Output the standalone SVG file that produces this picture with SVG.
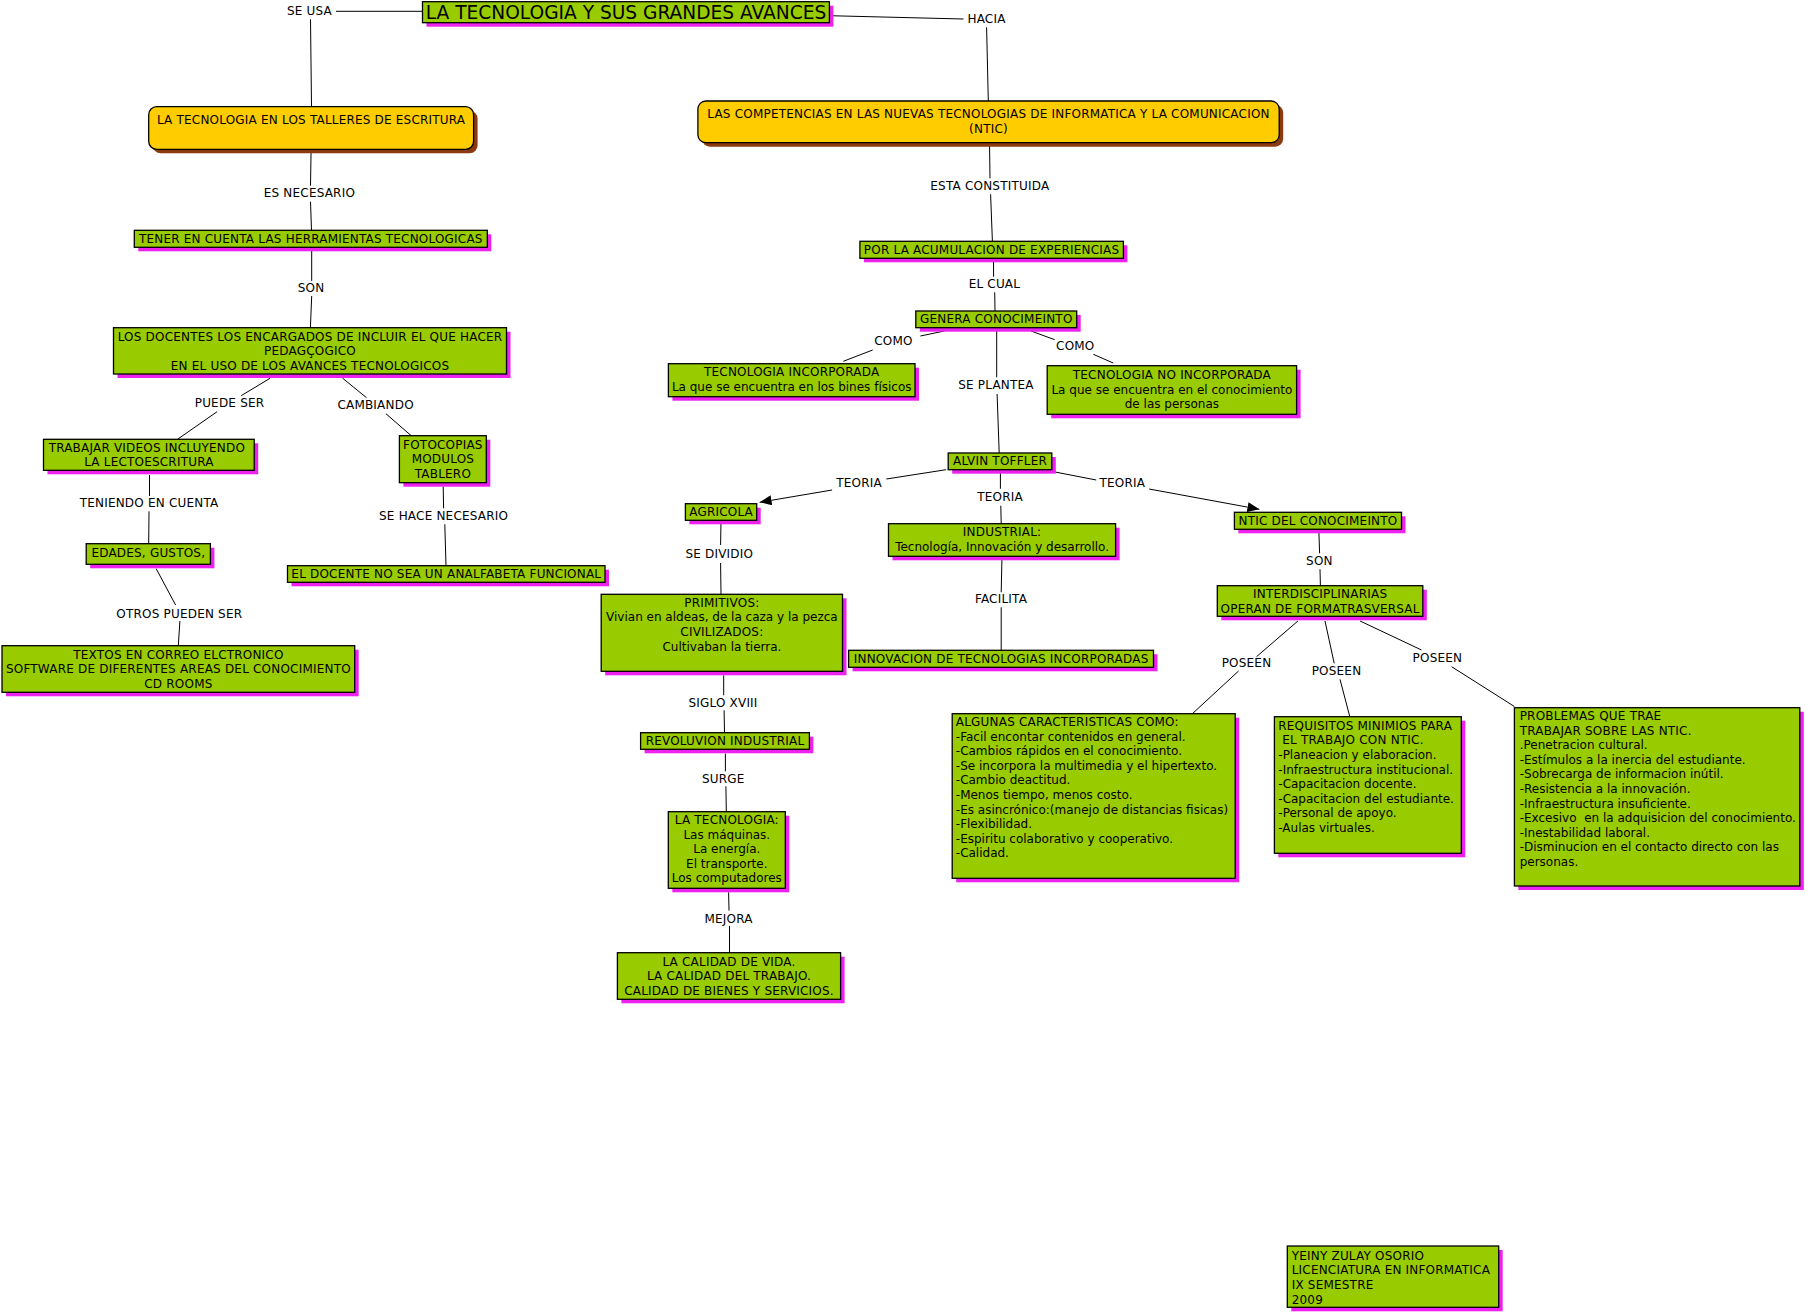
<svg xmlns="http://www.w3.org/2000/svg" width="1805" height="1313" viewBox="0 0 1805 1313">
<style>
text{font-family:"DejaVu Sans",Verdana,"Liberation Sans",sans-serif;font-size:12px;letter-spacing:0.2px;fill:#000}
.c{text-anchor:middle}
.m{letter-spacing:0}
.t{font-size:18.6px;letter-spacing:0}
.sh{fill:#ee22ee}
.bx{fill:#99cc00;stroke:#000;stroke-width:1.3}
.ysh{fill:#8b3a0f}
.yb{fill:#ffcc00;stroke:#000;stroke-width:1.3}
.ln{stroke:#000;stroke-width:1;fill:none}
.ar{marker-end:url(#arr)}
</style>
<defs>
<marker id="arr" viewBox="0 0 12 10" refX="12" refY="5" markerWidth="12" markerHeight="10" markerUnits="userSpaceOnUse" orient="auto">
<path d="M0,0 L12,5 L0,10 z" fill="#000"/>
</marker>
</defs>
<rect width="1805" height="1313" fill="#fff"/>
<g id="connectors">
<line class="ln" x1="336" y1="11.3" x2="422.5" y2="11.3"/>
<line class="ln" x1="310.5" y1="19.3" x2="311.5" y2="106"/>
<line class="ln" x1="829.4" y1="15.7" x2="963.5" y2="19"/>
<line class="ln" x1="986.6" y1="27.3" x2="988.3" y2="101"/>
<line class="ln" x1="311.1" y1="149" x2="310.5" y2="185.7"/>
<line class="ln" x1="310.5" y1="201.7" x2="311.5" y2="230.3"/>
<line class="ln" x1="311.7" y1="247.3" x2="311.7" y2="281"/>
<line class="ln" x1="311.7" y1="296" x2="310.4" y2="327.7"/>
<line class="ln" x1="989.5" y1="142.7" x2="990" y2="178.3"/>
<line class="ln" x1="990.6" y1="194.3" x2="992.4" y2="241.3"/>
<line class="ln" x1="993.5" y1="258.3" x2="993.6" y2="276.7"/>
<line class="ln" x1="994.7" y1="292.3" x2="995" y2="311"/>
<line class="ln" x1="944.4" y1="331" x2="920.4" y2="336"/>
<line class="ln" x1="872.7" y1="350" x2="843.3" y2="361.3"/>
<line class="ln" x1="1031" y1="331" x2="1054.7" y2="339.7"/>
<line class="ln" x1="1093.3" y1="354.3" x2="1113.2" y2="363"/>
<line class="ln" x1="996.7" y1="327.7" x2="996.7" y2="377.3"/>
<line class="ln" x1="997.1" y1="394" x2="999.2" y2="453"/>
<line class="ln" x1="946.1" y1="469.7" x2="886.4" y2="479"/>
<line class="ln ar" x1="832.1" y1="490" x2="759.6" y2="502.3"/>
<line class="ln" x1="1000.4" y1="469.7" x2="1000.4" y2="488.7"/>
<line class="ln" x1="1000.8" y1="505.7" x2="1001.2" y2="523.7"/>
<line class="ln" x1="1055.1" y1="472" x2="1096.2" y2="480"/>
<line class="ln ar" x1="1149.2" y1="489" x2="1259.4" y2="509.3"/>
<line class="ln" x1="721" y1="520.3" x2="720.6" y2="545"/>
<line class="ln" x1="720.6" y1="563" x2="721" y2="594.3"/>
<line class="ln" x1="1002" y1="556.3" x2="1001.2" y2="592.3"/>
<line class="ln" x1="1001.2" y1="607.3" x2="1001.2" y2="650.3"/>
<line class="ln" x1="1318.8" y1="529.3" x2="1319.6" y2="553.3"/>
<line class="ln" x1="1320" y1="569.3" x2="1320.4" y2="585.7"/>
<line class="ln" x1="1297.9" y1="621" x2="1256.5" y2="656.7"/>
<line class="ln" x1="1238.6" y1="671" x2="1192.4" y2="713.7"/>
<line class="ln" x1="1325" y1="621" x2="1334.2" y2="663.3"/>
<line class="ln" x1="1340" y1="679.3" x2="1349.8" y2="716.7"/>
<line class="ln" x1="1360.1" y1="621" x2="1421.5" y2="650"/>
<line class="ln" x1="1451.6" y1="666.7" x2="1514.4" y2="706.5"/>
<line class="ln" x1="270" y1="378.3" x2="241.2" y2="395.7"/>
<line class="ln" x1="217.1" y1="411.7" x2="177.5" y2="439.3"/>
<line class="ln" x1="342.4" y1="378" x2="366.5" y2="397.7"/>
<line class="ln" x1="385.9" y1="413.7" x2="411.2" y2="435.7"/>
<line class="ln" x1="149.5" y1="475" x2="149.5" y2="496"/>
<line class="ln" x1="149" y1="511.3" x2="148.7" y2="543.7"/>
<line class="ln" x1="443.2" y1="486.7" x2="443.6" y2="508.3"/>
<line class="ln" x1="444.8" y1="524.3" x2="446" y2="565.7"/>
<line class="ln" x1="156.2" y1="568.7" x2="175.6" y2="605"/>
<line class="ln" x1="179.9" y1="621" x2="178.3" y2="645.7"/>
<line class="ln" x1="723.7" y1="675.3" x2="723.7" y2="695.3"/>
<line class="ln" x1="724.1" y1="710.3" x2="724.5" y2="732.7"/>
<line class="ln" x1="725.4" y1="753.7" x2="725.4" y2="771.3"/>
<line class="ln" x1="725.9" y1="786.3" x2="726.3" y2="811.7"/>
<line class="ln" x1="728.6" y1="892.3" x2="729" y2="910.7"/>
<line class="ln" x1="729.5" y1="926" x2="729.5" y2="952.7"/>
</g>
<g id="labels">
<text class="c" x="309.5" y="15">SE USA</text>
<text class="c" x="986.5" y="22.7">HACIA</text>
<text class="c" x="309.4" y="196.7">ES NECESARIO</text>
<text class="c" x="311" y="292">SON</text>
<text class="c" x="989.8" y="190">ESTA CONSTITUIDA</text>
<text class="c" x="994.4" y="288">EL CUAL</text>
<text class="c" x="893.4" y="345">COMO</text>
<text class="c" x="1075.3" y="350">COMO</text>
<text class="c" x="996" y="389.3">SE PLANTEA</text>
<text class="c" x="859" y="487.3">TEORIA</text>
<text class="c" x="1000" y="501.3">TEORIA</text>
<text class="c" x="1122.3" y="487.3">TEORIA</text>
<text class="c" x="719.3" y="558.3">SE DIVIDIO</text>
<text class="c" x="1001" y="603.3">FACILITA</text>
<text class="c" x="1319.4" y="565">SON</text>
<text class="c" x="1246.5" y="667">POSEEN</text>
<text class="c" x="1336.5" y="675">POSEEN</text>
<text class="c" x="1437.4" y="662.3">POSEEN</text>
<text class="c" x="229.5" y="407.3">PUEDE SER</text>
<text class="c" x="375.6" y="409.3">CAMBIANDO</text>
<text class="c" x="149.1" y="507.3">TENIENDO EN CUENTA</text>
<text class="c" x="443.6" y="520.3">SE HACE NECESARIO</text>
<text class="c" x="179.3" y="617.7">OTROS PUEDEN SER</text>
<text class="c" x="723" y="706.7">SIGLO XVIII</text>
<text class="c" x="723.2" y="782.7">SURGE</text>
<text class="c" x="728.6" y="922.7">MEJORA</text>
</g>
<g id="n-title">
<rect class="sh" x="426.5" y="5.7" width="406.9" height="21"/>
<rect class="bx" x="422.5" y="1.7" width="406.9" height="21"/>
<text class="c t" x="626" y="18.5">LA TECNOLOGIA Y SUS GRANDES AVANCES</text>
</g>
<g id="n-talleres">
<rect class="ysh" x="152.7" y="110.7" width="324.9" height="42.6" rx="8"/>
<rect class="yb" x="148.7" y="106.7" width="324.9" height="42.6" rx="8"/>
<text class="c" x="311.1" y="124.3">LA TECNOLOGIA EN LOS TALLERES DE ESCRITURA</text>
</g>
<g id="n-competencias">
<rect class="ysh" x="701.9" y="105" width="581.3" height="41.7" rx="8"/>
<rect class="yb" x="697.9" y="101" width="581.3" height="41.7" rx="8"/>
<text class="c" x="988.5" y="118.3">LAS COMPETENCIAS EN LAS NUEVAS TECNOLOGIAS DE INFORMATICA Y LA COMUNICACION</text>
<text class="c" x="988.5" y="132.8">(NTIC)</text>
</g>
<g id="n-tener">
<rect class="sh" x="138.3" y="234.3" width="353" height="17"/>
<rect class="bx" x="134.3" y="230.3" width="353" height="17"/>
<text class="c" x="310.8" y="243">TENER EN CUENTA LAS HERRAMIENTAS TECNOLOGICAS</text>
</g>
<g id="n-acumulacion">
<rect class="sh" x="863.9" y="245.3" width="263.5" height="17"/>
<rect class="bx" x="859.9" y="241.3" width="263.5" height="17"/>
<text class="c" x="991.6" y="254">POR LA ACUMULACION DE EXPERIENCIAS</text>
</g>
<g id="n-docentes">
<rect class="sh" x="117.5" y="331.7" width="393" height="46.3"/>
<rect class="bx" x="113.5" y="327.7" width="393" height="46.3"/>
<text class="c" x="310" y="340.8">LOS DOCENTES LOS ENCARGADOS DE INCLUIR EL QUE HACER</text>
<text class="c" x="310" y="355.3">PEDAGÇOGICO</text>
<text class="c" x="310" y="369.6">EN EL USO DE LOS AVANCES TECNOLOGICOS</text>
</g>
<g id="n-videos">
<rect class="sh" x="47.5" y="443.3" width="210.7" height="31"/>
<rect class="bx" x="43.5" y="439.3" width="210.7" height="31"/>
<text class="c" x="148.9" y="451.8">TRABAJAR VIDEOS INCLUYENDO&#160;</text>
<text class="c" x="148.9" y="466.3">LA LECTOESCRITURA</text>
</g>
<g id="n-fotocopias">
<rect class="sh" x="403.4" y="439.7" width="86.9" height="47"/>
<rect class="bx" x="399.4" y="435.7" width="86.9" height="47"/>
<text class="c" x="442.9" y="448.7">FOTOCOPIAS</text>
<text class="c" x="442.9" y="463.2">MODULOS</text>
<text class="c" x="442.9" y="477.7">TABLERO</text>
</g>
<g id="n-edades">
<rect class="sh" x="90.2" y="547.7" width="124.2" height="20.6"/>
<rect class="bx" x="86.2" y="543.7" width="124.2" height="20.6"/>
<text class="c" x="148.3" y="557">EDADES, GUSTOS,</text>
</g>
<g id="n-docente-analfabeta">
<rect class="sh" x="291.5" y="569.7" width="317.5" height="16.6"/>
<rect class="bx" x="287.5" y="565.7" width="317.5" height="16.6"/>
<text class="c" x="446.3" y="577.8">EL DOCENTE NO SEA UN ANALFABETA FUNCIONAL</text>
</g>
<g id="n-textos">
<rect class="sh" x="6" y="649.7" width="352.7" height="46.6"/>
<rect class="bx" x="2" y="645.7" width="352.7" height="46.6"/>
<text class="c" x="178.4" y="658.5">TEXTOS EN CORREO ELCTRONICO</text>
<text class="c" x="178.4" y="673.1">SOFTWARE DE DIFERENTES AREAS DEL CONOCIMIENTO</text>
<text class="c" x="178.4" y="687.7">CD ROOMS</text>
</g>
<g id="n-genera">
<rect class="sh" x="919.8" y="315" width="160.9" height="16.7"/>
<rect class="bx" x="915.8" y="311" width="160.9" height="16.7"/>
<text class="c" x="996.3" y="322.5">GENERA CONOCIMEINTO</text>
</g>
<g id="n-incorporada">
<rect class="sh" x="672.4" y="367.7" width="246.6" height="33"/>
<rect class="bx" x="668.4" y="363.7" width="246.6" height="33"/>
<text class="c" x="791.7" y="376">TECNOLOGIA INCORPORADA</text>
<text class="c m" x="791.7" y="390.7">La que se encuentra en los bines físicos</text>
</g>
<g id="n-no-incorporada">
<rect class="sh" x="1051.2" y="369.7" width="249.4" height="48.6"/>
<rect class="bx" x="1047.2" y="365.7" width="249.4" height="48.6"/>
<text class="c" x="1171.9" y="379.2">TECNOLOGIA NO INCORPORADA</text>
<text class="c m" x="1171.9" y="393.7">La que se encuentra en el conocimiento</text>
<text class="c m" x="1171.9" y="408.2">de las personas</text>
</g>
<g id="n-toffler">
<rect class="sh" x="952.2" y="457" width="103.6" height="16.7"/>
<rect class="bx" x="948.2" y="453" width="103.6" height="16.7"/>
<text class="c" x="1000" y="465">ALVIN TOFFLER</text>
</g>
<g id="n-agricola">
<rect class="sh" x="689.4" y="507.7" width="71.3" height="16.6"/>
<rect class="bx" x="685.4" y="503.7" width="71.3" height="16.6"/>
<text class="c" x="721.1" y="515.7">AGRICOLA</text>
</g>
<g id="n-industrial">
<rect class="sh" x="892.5" y="527.7" width="227.1" height="32.6"/>
<rect class="bx" x="888.5" y="523.7" width="227.1" height="32.6"/>
<text class="c" x="1002.1" y="536">INDUSTRIAL:</text>
<text class="c m" x="1002.1" y="550.7">Tecnología, Innovación y desarrollo.</text>
</g>
<g id="n-ntic">
<rect class="sh" x="1238.4" y="516.3" width="167.1" height="17"/>
<rect class="bx" x="1234.4" y="512.3" width="167.1" height="17"/>
<text class="c" x="1318" y="524.5">NTIC DEL CONOCIMEINTO</text>
</g>
<g id="n-interdisciplinarias">
<rect class="sh" x="1221.3" y="589.7" width="205.5" height="30.6"/>
<rect class="bx" x="1217.3" y="585.7" width="205.5" height="30.6"/>
<text class="c" x="1320.1" y="598">INTERDISCIPLINARIAS</text>
<text class="c" x="1320.1" y="612.7">OPERAN DE FORMATRASVERSAL</text>
</g>
<g id="n-primitivos">
<rect class="sh" x="605.2" y="598.3" width="241.3" height="77"/>
<rect class="bx" x="601.2" y="594.3" width="241.3" height="77"/>
<text class="c" x="721.9" y="606.7">PRIMITIVOS:</text>
<text class="c m" x="721.9" y="621.3">Vivian en aldeas, de la caza y la pezca</text>
<text class="c" x="721.9" y="636">CIVILIZADOS:</text>
<text class="c m" x="721.9" y="650.7">Cultivaban la tierra.</text>
</g>
<g id="n-innovacion">
<rect class="sh" x="852.6" y="654.3" width="304.9" height="17"/>
<rect class="bx" x="848.6" y="650.3" width="304.9" height="17"/>
<text class="c" x="1001.1" y="662.7">INNOVACION DE TECNOLOGIAS INCORPORADAS</text>
</g>
<g id="n-caracteristicas">
<rect class="sh" x="956.2" y="717.7" width="283" height="164.6"/>
<rect class="bx" x="952.2" y="713.7" width="283" height="164.6"/>
<text x="955.8" y="726">ALGUNAS CARACTERISTICAS COMO:</text>
<text class="m" x="955.8" y="740.6">-Facil encontar contenidos en general.</text>
<text class="m" x="955.8" y="755.2">-Cambios rápidos en el conocimiento.</text>
<text class="m" x="955.8" y="769.8">-Se incorpora la multimedia y el hipertexto.</text>
<text class="m" x="955.8" y="784.4">-Cambio deactitud.</text>
<text class="m" x="955.8" y="799">-Menos tiempo, menos costo.</text>
<text class="m" x="955.8" y="813.6">-Es asincrónico:(manejo de distancias fisicas)</text>
<text class="m" x="955.8" y="828.2">-Flexibilidad.</text>
<text class="m" x="955.8" y="842.8">-Espiritu colaborativo y cooperativo.</text>
<text class="m" x="955.8" y="857.4">-Calidad.</text>
</g>
<g id="n-revolucion">
<rect class="sh" x="644.6" y="736.7" width="168.8" height="16.6"/>
<rect class="bx" x="640.6" y="732.7" width="168.8" height="16.6"/>
<text class="c" x="725" y="745">REVOLUVION INDUSTRIAL</text>
</g>
<g id="n-la-tecnologia">
<rect class="sh" x="672.3" y="815.7" width="117" height="76.6"/>
<rect class="bx" x="668.3" y="811.7" width="117" height="76.6"/>
<text class="c" x="726.8" y="824">LA TECNOLOGIA:</text>
<text class="c m" x="726.8" y="838.6">Las máquinas.</text>
<text class="c m" x="726.8" y="853.2">La energía.</text>
<text class="c m" x="726.8" y="867.8">El transporte.</text>
<text class="c m" x="726.8" y="882.4">Los computadores</text>
</g>
<g id="n-calidad">
<rect class="sh" x="621.4" y="956.7" width="223.2" height="46.6"/>
<rect class="bx" x="617.4" y="952.7" width="223.2" height="46.6"/>
<text class="c" x="729" y="965.7">LA CALIDAD DE VIDA.</text>
<text class="c" x="729" y="980.3">LA CALIDAD DEL TRABAJO.</text>
<text class="c" x="729" y="995">CALIDAD DE BIENES Y SERVICIOS.</text>
</g>
<g id="n-requisitos">
<rect class="sh" x="1278.4" y="720.7" width="186.9" height="136.6"/>
<rect class="bx" x="1274.4" y="716.7" width="186.9" height="136.6"/>
<text x="1278.3" y="729.7">REQUISITOS MINIMIOS PARA</text>
<text x="1278.3" y="744.3">&#160;EL TRABAJO CON NTIC.</text>
<text class="m" x="1278.3" y="758.9">-Planeacion y elaboracion.</text>
<text class="m" x="1278.3" y="773.5">-Infraestructura institucional.</text>
<text class="m" x="1278.3" y="788.1">-Capacitacion docente.</text>
<text class="m" x="1278.3" y="802.7">-Capacitacion del estudiante.</text>
<text class="m" x="1278.3" y="817.3">-Personal de apoyo.</text>
<text class="m" x="1278.3" y="831.9">-Aulas virtuales.</text>
</g>
<g id="n-problemas">
<rect class="sh" x="1518.4" y="711.7" width="285.4" height="178.3"/>
<rect class="bx" x="1514.4" y="707.7" width="285.4" height="178.3"/>
<text x="1519.7" y="720">PROBLEMAS QUE TRAE</text>
<text x="1519.7" y="734.6">TRABAJAR SOBRE LAS NTIC.</text>
<text class="m" x="1519.7" y="749.2">.Penetracion cultural.</text>
<text class="m" x="1519.7" y="763.8">-Estímulos a la inercia del estudiante.</text>
<text class="m" x="1519.7" y="778.4">-Sobrecarga de informacion inútil.</text>
<text class="m" x="1519.7" y="793">-Resistencia a la innovación.</text>
<text class="m" x="1519.7" y="807.6">-Infraestructura insuficiente.</text>
<text class="m" x="1519.7" y="822.2">-Excesivo&#160; en la adquisicion del conocimiento.</text>
<text class="m" x="1519.7" y="836.8">-Inestabilidad laboral.</text>
<text class="m" x="1519.7" y="851.4">-Disminucion en el contacto directo con las</text>
<text class="m" x="1519.7" y="866">personas.</text>
</g>
<g id="n-autor">
<rect class="sh" x="1291.3" y="1250" width="211.4" height="61.3"/>
<rect class="bx" x="1287.3" y="1246" width="211.4" height="61.3"/>
<text x="1291.7" y="1259.5">YEINY ZULAY OSORIO</text>
<text x="1291.7" y="1274.2">LICENCIATURA EN INFORMATICA</text>
<text x="1291.7" y="1288.9">IX SEMESTRE</text>
<text x="1291.7" y="1303.6">2009</text>
</g>
</svg>
